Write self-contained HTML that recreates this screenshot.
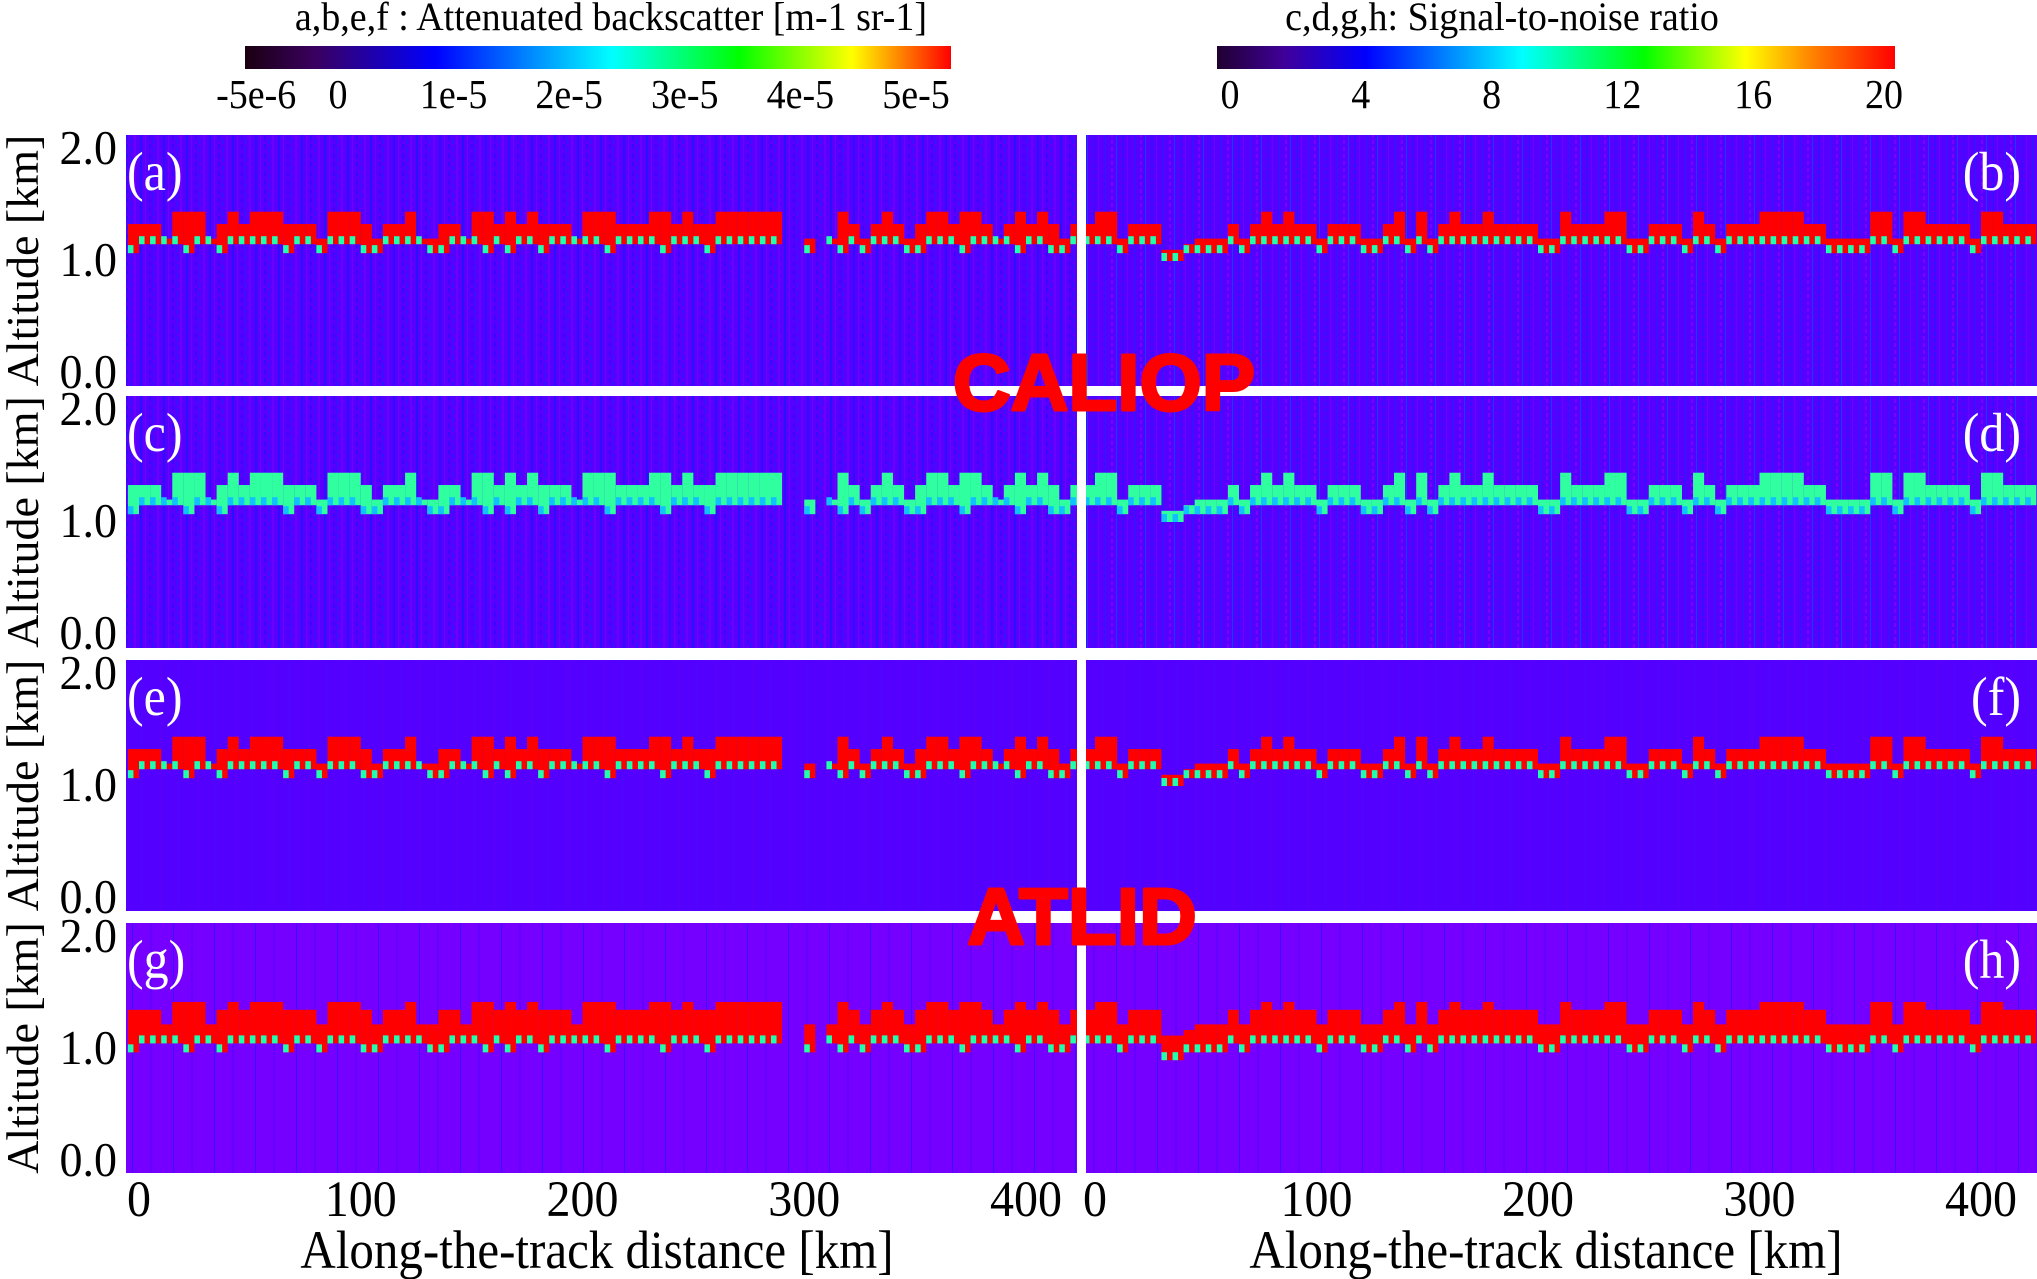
<!DOCTYPE html>
<html><head><meta charset="utf-8">
<style>
html,body{margin:0;padding:0;background:#fff;}
svg{display:block;}
text{font-family:"Liberation Serif",serif;}
</style></head>
<body>
<svg id="fig" width="2037" height="1279" viewBox="0 0 2037 1279" xmlns="http://www.w3.org/2000/svg">
<defs>
<linearGradient id="cbA" x1="0" x2="1" y1="0" y2="0">
<stop offset="0" stop-color="#1a0010"/><stop offset="0.1" stop-color="#3a0060"/><stop offset="0.27" stop-color="#0000ff"/>
<stop offset="0.52" stop-color="#00ffff"/><stop offset="0.7" stop-color="#00ff00"/><stop offset="0.86" stop-color="#ffff00"/>
<stop offset="0.93" stop-color="#ff8000"/><stop offset="1" stop-color="#ff0000"/></linearGradient>
<linearGradient id="cbB" x1="0" x2="1" y1="0" y2="0">
<stop offset="0" stop-color="#200030"/><stop offset="0.1" stop-color="#40009a"/><stop offset="0.22" stop-color="#0000ff"/>
<stop offset="0.45" stop-color="#00ffff"/><stop offset="0.63" stop-color="#00ff00"/><stop offset="0.78" stop-color="#ffff00"/>
<stop offset="0.88" stop-color="#ff8000"/><stop offset="1" stop-color="#ff0000"/></linearGradient>
<pattern id="noiseA" width="23" height="9" patternUnits="userSpaceOnUse">
<rect width="23" height="9" fill="#5800ff"/><rect x="2" width="2" height="9" fill="#2a10ff"/><rect x="7" width="1" height="9" fill="#7000ff"/>
<rect x="11" width="2" height="5" fill="#3a08ff"/><rect x="15" y="3" width="1" height="6" fill="#1a20ff"/><rect x="19" width="2" height="9" fill="#6a00ff"/></pattern>
<pattern id="noiseB" width="29" height="7" patternUnits="userSpaceOnUse">
<rect width="29" height="7" fill="#5600ff"/><rect x="3" width="1" height="7" fill="#2020ff"/><rect x="9" width="2" height="4" fill="#7a00ff"/>
<rect x="14" width="1" height="7" fill="#1040ff"/><rect x="20" y="2" width="2" height="5" fill="#3010ff"/><rect x="25" width="1" height="7" fill="#6e00ff"/></pattern>
<pattern id="noiseE" width="37" height="10" patternUnits="userSpaceOnUse">
<rect width="37" height="10" fill="#5300ff"/><rect x="12" width="2" height="10" fill="#5a00fa"/><rect x="30" width="1" height="10" fill="#4a08ff"/></pattern>
<pattern id="noiseG" width="41" height="10" patternUnits="userSpaceOnUse">
<rect width="41" height="10" fill="#7500ff"/><rect x="9" width="1" height="10" fill="#3a10ff"/><rect x="27" width="2" height="10" fill="#6400ff"/></pattern>
</defs>
<g id="panels"></g>
<g id="labels"></g>
</svg>
<script>
// along-track bin start (km), each 5 km wide, from -5 km
const binStartKm = -5;
const binWidthKm = 5;
// left track cloud top altitude (km), 0 = clear
const leftTop = [1.33,1.33,1.33,1.2,1.44,1.44,1.44,1.2,1.33,1.44,1.33,1.44,1.44,1.44,1.33,1.33,1.33,1.2,1.44,1.44,1.44,1.33,1.2,1.33,1.33,1.44,1.2,1.2,1.33,1.33,1.2,1.44,1.44,1.33,1.44,1.33,1.44,1.33,1.33,1.33,1.2,1.44,1.44,1.44,1.33,1.33,1.33,1.44,1.44,1.33,1.44,1.33,1.33,1.44,1.44,1.44,1.44,1.44,1.44,0,0,1.2,0,1.2,1.44,1.33,1.2,1.33,1.44,1.33,1.2,1.33,1.44,1.44,1.33,1.44,1.44,1.33,1.2,1.33,1.44,1.33,1.44,1.33,1.2,1.33];
// left track cloud base altitude (km)
const leftBase = [1.07,1.15,1.15,1.15,1.15,1.07,1.15,1.15,1.07,1.15,1.15,1.15,1.15,1.15,1.07,1.15,1.15,1.07,1.15,1.15,1.15,1.07,1.07,1.15,1.15,1.15,1.15,1.07,1.07,1.15,1.15,1.15,1.07,1.15,1.07,1.15,1.15,1.07,1.15,1.15,1.15,1.15,1.15,1.07,1.15,1.15,1.15,1.15,1.07,1.15,1.15,1.15,1.07,1.15,1.15,1.15,1.15,1.15,1.15,1.15,1.15,1.07,1.15,1.15,1.07,1.15,1.07,1.15,1.15,1.15,1.07,1.07,1.15,1.15,1.15,1.07,1.15,1.15,1.15,1.15,1.07,1.15,1.15,1.07,1.07,1.15];
// right track cloud top altitude (km)
const rightTop = [1.33,1.44,1.44,1.2,1.33,1.33,1.33,1.1,1.1,1.15,1.2,1.2,1.2,1.33,1.2,1.33,1.44,1.33,1.44,1.33,1.33,1.2,1.33,1.33,1.33,1.2,1.2,1.33,1.44,1.2,1.44,1.2,1.33,1.44,1.33,1.33,1.44,1.33,1.33,1.33,1.33,1.2,1.2,1.44,1.33,1.33,1.33,1.44,1.44,1.2,1.2,1.33,1.33,1.33,1.2,1.44,1.33,1.2,1.33,1.33,1.33,1.44,1.44,1.44,1.44,1.33,1.33,1.2,1.2,1.2,1.2,1.44,1.44,1.2,1.44,1.44,1.33,1.33,1.33,1.33,1.2,1.44,1.44,1.33,1.33,1.33];
// right track cloud base altitude (km)
const rightBase = [1.15,1.15,1.15,1.07,1.15,1.15,1.15,1.0,1.0,1.07,1.07,1.07,1.07,1.15,1.07,1.15,1.15,1.15,1.15,1.15,1.15,1.07,1.15,1.15,1.15,1.07,1.07,1.15,1.15,1.07,1.15,1.07,1.15,1.15,1.15,1.15,1.15,1.15,1.15,1.15,1.15,1.07,1.07,1.15,1.15,1.15,1.15,1.15,1.15,1.07,1.07,1.15,1.15,1.15,1.07,1.15,1.15,1.07,1.15,1.15,1.15,1.15,1.15,1.15,1.15,1.15,1.15,1.07,1.07,1.07,1.07,1.15,1.15,1.07,1.15,1.15,1.15,1.15,1.15,1.15,1.07,1.15,1.15,1.15,1.15,1.15];
const xTicks = [0,100,200,300,400];
const yTicks = [0.0,1.0,2.0];
const cbATicks = ["-5e-6","0","1e-5","2e-5","3e-5","4e-5","5e-5"];
const cbAVals = [-0.5,0,1,2,3,4,5];
const cbBTicks = [0,4,8,12,16,20];

const NS="http://www.w3.org/2000/svg";
const svg=document.getElementById('fig');
const gP=document.getElementById('panels');
const gL=document.getElementById('labels');
function mk(tag,attrs,parent){const e=document.createElementNS(NS,tag);for(const k in attrs)e.setAttribute(k,attrs[k]);(parent||svg).appendChild(e);return e;}
function stretch(y,s){return 'translate(0 '+y+') scale(1 '+s+') translate(0 '+(-y)+')';}

const cols={L:{x0:126,x1:1077,zero:139,ppk:2.2175},R:{x0:1086,x1:2037,zero:1095,ppk:2.215}};
const rows=[{y0:135,y1:386},{y0:396,y1:648},{y0:660,y1:911},{y0:923,y1:1173}];
function xs(c,km){return c.zero+km*c.ppk;}
function ys(r,alt){return r.y0+14+(2.0-alt)*112;}

const panelDefs=[
 ['a','L',0,'noiseA','bsc'],['b','R',0,'noiseB','bsc'],
 ['c','L',1,'noiseA','snrC'],['d','R',1,'noiseB','snrC'],
 ['e','L',2,'noiseE','bsc'],['f','R',2,'noiseE','bsc'],
 ['g','L',3,'noiseG','atl'],['h','R',3,'noiseG','atl']];

panelDefs.forEach(([lab,side,ri,pat,kind])=>{
 const c=cols[side],r=rows[ri];
 const g=mk('g',{},gP);
 
 
 const bg=mk('rect',{x:c.x0,y:r.y0,width:c.x1-c.x0,height:r.y1-r.y0,fill:'url(#'+pat+')'},g);
 
 
 const tops=side==='L'?leftTop:rightTop;
 const bases=side==='L'?leftBase:rightBase;
 const clip='clip'+lab;
 const cp=mk('clipPath',{id:clip},g);mk('rect',{x:c.x0,y:r.y0,width:c.x1-c.x0,height:r.y1-r.y0},cp);
 const cg=mk('g',{'clip-path':'url(#'+clip+')'},g);
 tops.forEach((t,i)=>{
  if(!t)return;
  const k0=binStartKm+i*binWidthKm;
  const xa=xs(c,k0),xb=xs(c,k0+binWidthKm);
  let b=bases[i];
  let top=t;
  if(kind==='atl'){top=Math.min(t+0.02,1.42);b=b-0.1;}
  const yt=ys(r,top),yb=ys(r,b);
  let core='#ff0000',edge='#20ffb0';
  if(kind==='snrC'){core='#30ffa0';edge='#10c0ff';}
  const cell=mk('rect',{x:xa,y:yt,width:xb-xa,height:yb-yt,fill:core},cg);
  
  
  const e2=mk('rect',{x:xa,y:yb-8,width:(xb-xa)*0.5,height:8,fill:edge},cg);
  
  
 });
 const ly=r.y0+55;
 const pl=mk('text',{x:side==='L'?c.x0+1:c.x1-16,y:ly,'font-size':50,fill:'#fff','text-anchor':side==='L'?'start':'end',transform:stretch(ly,1.1)},g);
 pl.textContent='('+lab+')';
 
 
 if(side==='L'){
  yTicks.forEach(v=>{
   const ty=ys(r,v)+15;
   const t=mk('text',{x:117,y:ty,'font-size':46,'text-anchor':'end',fill:'#000',transform:stretch(ty,1.05)},gL);
   t.textContent=v.toFixed(1);
   
   
  });
  const cy=(r.y0+r.y1)/2;
  const yt=mk('text',{x:38,y:cy,'font-size':46,'text-anchor':'middle',transform:'rotate(-90 38 '+cy+')',fill:'#000'},gL);
  yt.textContent='Altitude [km]';
  
  
 }
});

['L','R'].forEach(s=>{
 const c=cols[s];
 xTicks.forEach(v=>{
  const t=mk('text',{x:xs(c,v),y:1216,'font-size':48,'text-anchor':'middle',fill:'#000',transform:stretch(1216,1.05)},gL);
  t.textContent=v;
  
  
 });
 const xt=mk('text',{x:s==='L'?597:1546,y:1268,'font-size':49,'text-anchor':'middle',fill:'#000',transform:stretch(1268,1.1)},gL);
 xt.textContent='Along-the-track distance [km]';
 
 
});

// colorbars
const cbA=mk('rect',{x:245,y:46,width:706,height:23,fill:'url(#cbA)'},gL);


const tA=mk('text',{x:611,y:30,'font-size':38,'text-anchor':'middle',fill:'#000',transform:stretch(30,1.05)},gL);
tA.textContent='a,b,e,f : Attenuated backscatter [m-1 sr-1]';


cbATicks.forEach((s,i)=>{
 const t=mk('text',{x:338+cbAVals[i]*115.6+(i===0?-24:0),y:108,'font-size':38,'text-anchor':'middle',fill:'#000',transform:stretch(108,1.08)},gL);
 t.textContent=s;
 
 
});
const cbB=mk('rect',{x:1217,y:46,width:678,height:23,fill:'url(#cbB)'},gL);


const tB=mk('text',{x:1502,y:30,'font-size':38,'text-anchor':'middle',fill:'#000',transform:stretch(30,1.05)},gL);
tB.textContent='c,d,g,h: Signal-to-noise ratio';


cbBTicks.forEach(v=>{
 const t=mk('text',{x:1230+v*32.7,y:108,'font-size':38,'text-anchor':'middle',fill:'#000',transform:stretch(108,1.08)},gL);
 t.textContent=v;
 
 
});
// instrument labels
[['CALIOP',1104,410,'caliop-label'],['ATLID',1082,944,'atlid-label']].forEach(([s,x,y,n])=>{
 const t=mk('text',{x:x,y:y,'font-size':80,'font-weight':'bold','text-anchor':'middle',fill:'#ff0000',stroke:'#ff0000','stroke-width':3,'stroke-linejoin':'round',style:'font-family:"Liberation Sans",sans-serif'},gL);
 t.textContent=s;
 
 
});
</script>
</body></html>
